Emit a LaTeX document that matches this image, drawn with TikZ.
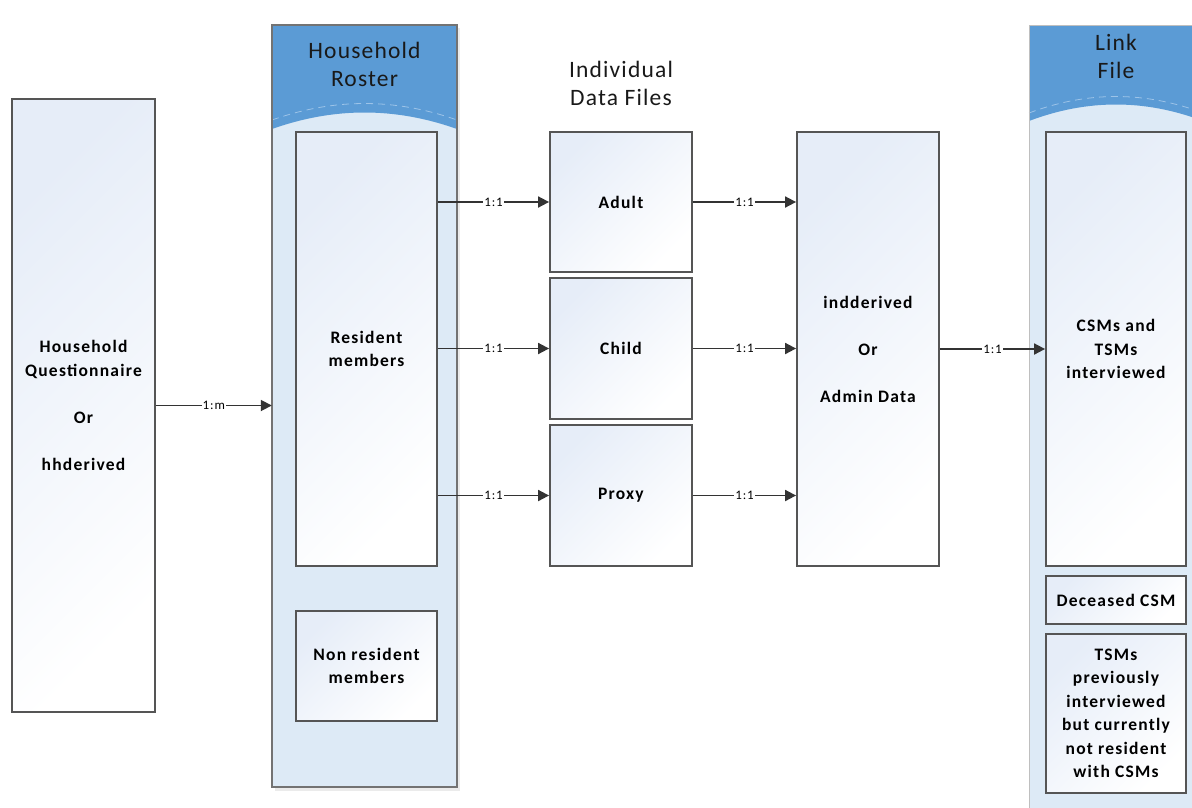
\documentclass[tikz,border=0pt]{standalone}
\usepackage{fontspec}
\setmainfont{Carlito}
\newfontfamily\boxfont{Carlito}[LetterSpace=7]
\newfontfamily\titlefont{Carlito}[LetterSpace=5]
\usetikzlibrary{arrows.meta}

\definecolor{hdrblue}{HTML}{5B9BD5}
\definecolor{dashblue}{HTML}{9CC3E8}
\definecolor{panelblue}{HTML}{DDEAF6}
\definecolor{boxtint}{HTML}{E6EDF8}
\definecolor{edgegray}{HTML}{555555}

\tikzset{
  databox/.style = {draw=edgegray, line width=1.8pt, top color=boxtint,
    bottom color=white, shading angle=45, align=center, inner sep=0pt,
    font=\boxfont\bfseries\fontsize{17.5}{23.5}\selectfont},
  panel/.style = {fill=panelblue, inner sep=0pt},
  link/.style = {-{Triangle[length=11pt,width=11pt]}, draw=black!80, line width=1.8pt},
  ratio/.style = {fill=white, inner sep=1pt, font=\boxfont\fontsize{13}{15}\selectfont},
  title/.style = {align=center, text=black!90, font=\titlefont\fontsize{23.5}{28}\selectfont},
}

\begin{document}
\begin{tikzpicture}[x = 1pt, y = -1pt]
\useasboundingbox (0, 0) rectangle (1192, 807);
\clip (0, 0) rectangle (1192, 807);

% household level
\node[databox, minimum width = 143, minimum height = 613] (hq) at (83.5, 405.5)
  {Household\\Questionnaire\\[23.5pt]Or\\[23.5pt]hhderived};

% roster panel
\fill[black!8] (275, 28) rectangle (460, 791);
\node[panel, minimum width = 185, minimum height = 762] (roster) at (364.5, 406) {};
\fill[hdrblue] (272, 25) -- (457, 25) -- (457, 129)
  .. controls (395, 107) and (334, 107) .. (272, 129) -- cycle;
\draw[dashblue, dash pattern = on 7pt off 5pt, line width = .8pt]
  (272, 120) .. controls (334, 98) and (395, 98) .. (457, 120);
\draw[black!55, line width = 1.2pt] (272, 25) rectangle (457, 787);
\node[title] (rostertitle) at (364.5, 64) {Household\\Roster};

\node[databox, minimum width = 141, minimum height = 434] (res) at (366.5, 349) {Resident\\members};
\node[databox, minimum width = 141, minimum height = 110] (nonres) at (366.5, 666) {Non resident\\members};

% individual files
\node[title] (indtitle) at (621, 83) {Individual\\Data Files};
\node[databox, minimum width = 142, minimum height = 140] (adult) at (621, 202) {Adult};
\node[databox, minimum width = 142, minimum height = 141] (child) at (621, 348.5) {Child};
\node[databox, minimum width = 142, minimum height = 141] (proxy) at (621, 495.5) {Proxy};

\node[databox, minimum width = 142, minimum height = 434] (ind) at (868, 349)
  {indderived\\[23.5pt]Or\\[23.5pt]Admin Data};

% link file panel
\node[panel, minimum width = 174, minimum height = 790] (link) at (1116, 420) {};
\fill[hdrblue] (1029, 25) -- (1203, 25) -- (1203, 121)
  .. controls (1145, 99) and (1087, 99) .. (1029, 121) -- cycle;
\draw[dashblue, dash pattern = on 7pt off 5pt, line width = .8pt]
  (1029, 113) .. controls (1087, 91) and (1145, 91) .. (1203, 113);
\draw[black!25, line width = 1pt] (1029, 815) -- (1029, 25) -- (1203, 25);
\node[title] (linktitle) at (1116, 56) {Link\\File};

\node[databox, minimum width = 140, minimum height = 434] (csm) at (1116, 349) {CSMs and\\TSMs\\interviewed};
\node[databox, minimum width = 140, minimum height = 48] (dec) at (1116, 600) {Deceased CSM};
\node[databox, minimum width = 140, minimum height = 159] (tsm) at (1116, 713.5)
  {TSMs\\previously\\interviewed\\but currently\\not resident\\with CSMs};

\draw[link] (hq.east) -- node[ratio] {1:m} (roster.west |- hq.east);

\draw[link] (res.east |- adult.west) -- node[ratio] {1:1} (adult.west);
\draw[link] (res.east |- child.west) -- node[ratio] {1:1} (child.west);
\draw[link] (res.east |- proxy.west) -- node[ratio] {1:1} (proxy.west);

\draw[link] (adult.east) -- node[ratio] {1:1} (ind.west |- adult.east);
\draw[link] (child.east) -- node[ratio] {1:1} (ind.west |- child.east);
\draw[link] (proxy.east) -- node[ratio] {1:1} (ind.west |- proxy.east);

\draw[link] (ind.east) -- node[ratio] {1:1} (csm.west);

\end{tikzpicture}
\end{document}
